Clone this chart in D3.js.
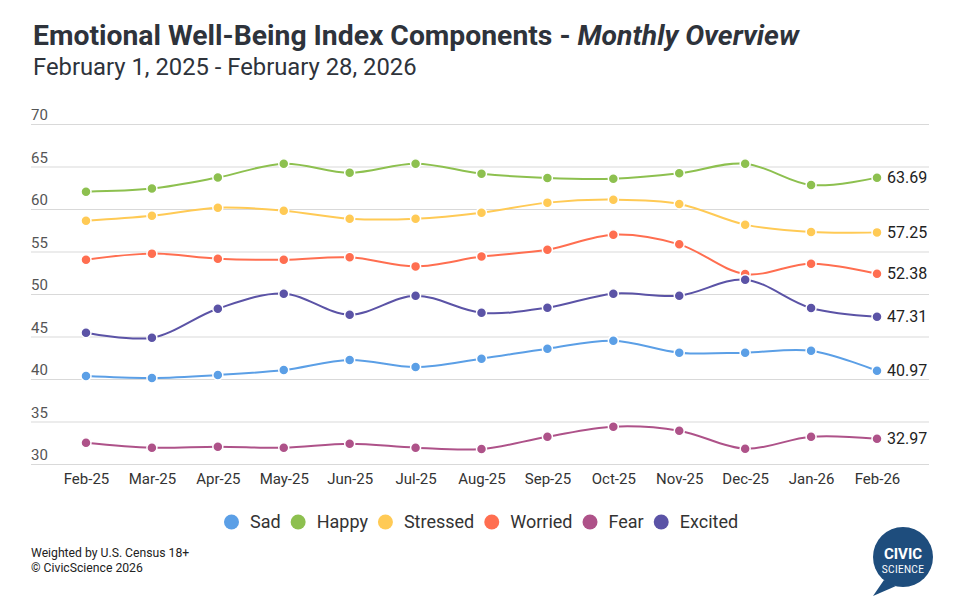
<!DOCTYPE html>
<html>
<head>
<meta charset="utf-8">
<script src="https://cdn.jsdelivr.net/npm/d3@7"></script>
<style>
  body { margin: 0; background: #fff; }
  text { font-family: Roboto, "Noto Sans", sans-serif; }
</style>
</head>
<body>
<script>
// data
let months = ["Feb-25","Mar-25","Apr-25","May-25","Jun-25","Jul-25","Aug-25","Sep-25","Oct-25","Nov-25","Dec-25","Jan-26","Feb-26"];
let sad      = [40.35,40.12,40.47,41.06,42.24,41.41,42.39,43.57,44.51,43.10,43.10,43.33,40.97];
let happy    = [62.04,62.40,63.70,65.33,64.27,65.33,64.16,63.65,63.57,64.20,65.33,62.82,63.69];
let stressed = [58.62,59.20,60.16,59.80,58.86,58.86,59.57,60.75,61.10,60.60,58.16,57.29,57.25];
let worried  = [54.04,54.75,54.16,54.04,54.31,53.25,54.40,55.20,56.98,55.84,52.35,53.57,52.38];
let fear     = [32.51,31.92,32.04,31.92,32.39,31.92,31.76,33.21,34.39,33.92,31.80,33.21,32.97];
let excited  = [45.45,44.86,48.27,50.04,47.57,49.80,47.80,48.39,50.04,49.80,51.69,48.35,47.31];
let yTicks = [30,35,40,45,50,55,60,65,70];

let series = [
  {name: "Sad", values: sad, color: "#5B9FE6"},
  {name: "Happy", values: happy, color: "#8DC04F"},
  {name: "Stressed", values: stressed, color: "#FFCA55"},
  {name: "Worried", values: worried, color: "#FF6E50"},
  {name: "Fear", values: fear, color: "#AE5289"},
  {name: "Excited", values: excited, color: "#5B53A6"}
];

let width = 979, height = 616;
let svg = d3.select("body").append("svg")
  .attr("width", width).attr("height", height);

// title
let title = svg.append("text").attr("x", 33).attr("y", 45)
  .attr("font-size", 28.3).attr("font-weight", "bold").attr("fill", "#2E333B");
title.append("tspan").text("Emotional Well-Being Index Components - ");
title.append("tspan").attr("font-style", "italic").text("Monthly Overview");
svg.append("text").attr("x", 33).attr("y", 75)
  .attr("font-size", 23.8).attr("fill", "#2E333B")
  .text("February 1, 2025 - February 28, 2026");

let x = d3.scalePoint().domain(months).range([86, 877]);
let y = d3.scaleLinear().domain([30, 70]).range([464, 124]);

// grid
let grid = svg.append("g");
grid.selectAll("line").data(yTicks).join("line")
  .attr("x1", 31).attr("x2", 929)
  .attr("y1", d => y(d) + 0.5).attr("y2", d => y(d) + 0.5)
  .attr("stroke", "#d9d9d9").attr("stroke-width", 1);
grid.selectAll("text").data(yTicks).join("text")
  .attr("x", 31).attr("y", d => y(d) - 4)
  .attr("font-size", 15).attr("fill", "#555")
  .text(d => d);

// x axis labels
let xAxis = svg.append("g").attr("transform", "translate(0,464)")
  .call(d3.axisBottom(x).tickSize(0).tickPadding(9));
xAxis.select(".domain").remove();
xAxis.selectAll("text").attr("font-size", 15).attr("fill", "#333")
  .attr("font-family", "Roboto, sans-serif");

let line = d3.line()
  .x((d, i) => x(months[i]))
  .y(d => y(d))
  .curve(d3.curveCatmullRom.alpha(0.5));

let g = svg.append("g");
series.forEach(s => {
  g.append("path").datum(s.values)
    .attr("d", line).attr("fill", "none")
    .attr("stroke", s.color).attr("stroke-width", 2);
});
series.forEach(s => {
  g.append("g").selectAll("circle").data(s.values).join("circle")
    .attr("cx", (d, i) => x(months[i])).attr("cy", d => y(d))
    .attr("r", 5).attr("fill", s.color)
    .attr("stroke", "#fff").attr("stroke-width", 1.5);
  let last = s.values[s.values.length - 1];
  g.append("text").attr("x", x(months[months.length - 1]) + 10)
    .attr("y", y(last)).attr("dy", "0.35em")
    .attr("font-size", 16).attr("fill", "#222")
    .text(last.toFixed(2));
});

// legend
let legend = svg.append("g");
let lx = 224;
series.forEach(s => {
  legend.append("circle").attr("cx", lx + 7.5).attr("cy", 522).attr("r", 7.5).attr("fill", s.color);
  let t = legend.append("text").attr("x", lx + 26).attr("y", 522).attr("dy", "0.35em")
    .attr("font-size", 18).attr("fill", "#333").text(s.name);
  lx += 26 + t.node().getComputedTextLength() + 10;
});

// footer
svg.append("text").attr("x", 31).attr("y", 557).attr("font-size", 12.2).attr("fill", "#222")
  .text("Weighted by U.S. Census 18+");
svg.append("text").attr("x", 31).attr("y", 572).attr("font-size", 12.2).attr("fill", "#222")
  .text("© CivicScience 2026");

// logo
let logo = svg.append("g");
logo.append("path").attr("d", "M884,580 L873,596 L896,586 Z").attr("fill", "#1E4D7D");
logo.append("circle").attr("cx", 903).attr("cy", 557).attr("r", 30).attr("fill", "#1E4D7D");
logo.append("text").attr("x", 903).attr("y", 559).attr("text-anchor", "middle")
  .attr("font-size", 15).attr("font-weight", "bold").attr("fill", "#fff").text("CIVIC");
logo.append("text").attr("x", 903).attr("y", 573).attr("text-anchor", "middle")
  .attr("font-size", 10).attr("fill", "#fff").attr("letter-spacing", 0.3).text("SCIENCE");
</script>
</body>
</html>
